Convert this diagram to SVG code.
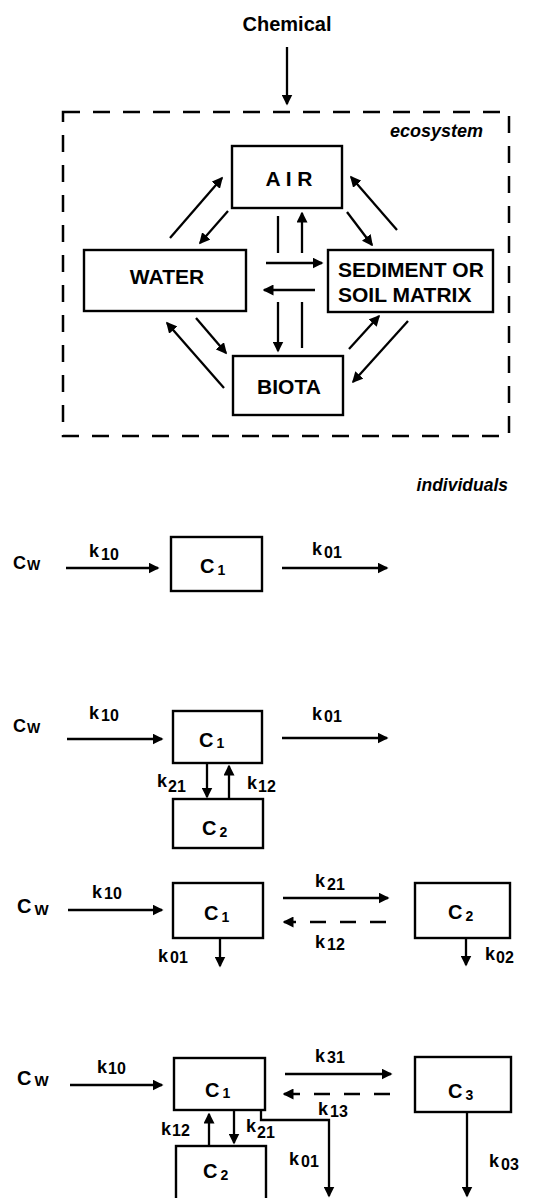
<svg xmlns="http://www.w3.org/2000/svg" width="538" height="1198" viewBox="0 0 538 1198">
<style>
text{font-family:"Liberation Sans",Arial,Helvetica,sans-serif;font-weight:bold;fill:#000}
.t{font-size:20px}
.e{font-size:21px}
.it{font-size:18px;font-style:italic}
.c{font-size:18px}
.c2{font-size:20px}
.w{font-size:14px}
.k{font-size:18px}
.ks{font-size:16px}
.cb{font-size:20px}
.cbs{font-size:14px}
.box{fill:#fff;stroke:#000;stroke-width:2.4}
.frame{fill:none;stroke:#000;stroke-width:2.5;stroke-dasharray:17 13}
.ln{fill:none;stroke:#000;stroke-width:2.3}
.ar{fill:none;stroke:#000;stroke-width:2.3;marker-end:url(#ah)}
.da{fill:none;stroke:#000;stroke-width:2.3;stroke-dasharray:16 14;marker-end:url(#ah)}
</style>
<defs>
<marker id="ah" viewBox="0 0 11 11" refX="9.5" refY="5.5" markerWidth="11" markerHeight="11" markerUnits="userSpaceOnUse" orient="auto">
<path d="M0,0 L11,5.5 L0,11 z" fill="#000"/>
</marker>
</defs>
<rect width="538" height="1198" fill="#fff"/>

<g id="chemical"><text class="t" x="287" y="31" text-anchor="middle">Chemical</text></g>

<g id="ecosystem">
<rect class="frame" x="63" y="112" width="446" height="324"/>
<text class="it" x="483" y="137" text-anchor="end">ecosystem</text>
</g>

<g id="air"><rect class="box" x="232" y="146" width="110" height="62"/><text class="e" x="289" y="186" text-anchor="middle">A I R</text></g>
<g id="water"><rect class="box" x="84" y="250" width="162" height="61"/><text class="e" x="167" y="284" text-anchor="middle">WATER</text></g>
<g id="sediment"><rect class="box" x="328" y="250" width="165" height="62"/><text class="e" x="338" y="277">SEDIMENT OR</text><text class="e" x="338" y="302">SOIL MATRIX</text></g>
<g id="biota"><rect class="box" x="233" y="356" width="110" height="59"/><text class="e" x="289" y="394" text-anchor="middle">BIOTA</text></g>

<g id="individuals-label"><text class="it" x="508" y="491" text-anchor="end" style="font-size:17.5px">individuals</text></g>

<!-- model 1 -->
<g id="m1-cw"><text class="c" x="13" y="569">C<tspan class="w" dx="1" dy="1">W</tspan></text></g>
<g id="m1-c1"><rect class="box" x="171" y="537" width="91" height="54"/><text class="cb" x="200" y="573">C<tspan class="cbs" dx="3" dy="2">1</tspan></text></g>

<!-- model 2 -->
<g id="m2-cw"><text class="c" x="13" y="732">C<tspan class="w" dx="1" dy="1">W</tspan></text></g>
<g id="m2-c1"><rect class="box" x="173" y="711" width="89" height="52"/><text class="cb" x="199" y="747">C<tspan class="cbs" dx="3" dy="1">1</tspan></text></g>
<g id="m2-c2"><rect class="box" x="173" y="799" width="90" height="49"/><text class="cb" x="202" y="835">C<tspan class="cbs" dx="3" dy="2">2</tspan></text></g>

<!-- model 3 -->
<g id="m3-cw"><text class="c2" x="17" y="913">C<tspan class="w" dx="3" dy="2" style="font-size:15px">W</tspan></text></g>
<g id="m3-c1"><rect class="box" x="173" y="883" width="90" height="55"/><text class="cb" x="204" y="920">C<tspan class="cbs" dx="3" dy="2">1</tspan></text></g>
<g id="m3-c2"><rect class="box" x="415" y="883" width="95" height="55"/><text class="cb" x="448" y="919">C<tspan class="cbs" dx="3" dy="2">2</tspan></text></g>

<!-- model 4 -->
<g id="m4-cw"><text class="c2" x="17" y="1085">C<tspan class="w" dx="3" dy="1" style="font-size:15px">W</tspan></text></g>
<g id="m4-c1"><rect class="box" x="174" y="1058" width="91" height="52"/><text class="cb" x="205" y="1097">C<tspan class="cbs" dx="3" dy="1">1</tspan></text></g>
<g id="m4-c3"><rect class="box" x="415" y="1057" width="96" height="55"/><text class="cb" x="448" y="1098">C<tspan class="cbs" dx="3" dy="2">3</tspan></text></g>
<g id="m4-c2"><rect class="box" x="176" y="1146" width="90" height="70"/><text class="cb" x="203" y="1178">C<tspan class="cbs" dx="3" dy="2">2</tspan></text></g>

<g id="connectors">
<line class="ar" x1="287" y1="47" x2="287" y2="104"/>
<line class="ar" x1="170" y1="238" x2="222" y2="178"/>
<line class="ar" x1="228" y1="211" x2="200" y2="243"/>
<line class="ln" x1="278" y1="216" x2="278" y2="253"/>
<line class="ar" x1="278" y1="302" x2="278" y2="351"/>
<line class="ln" x1="302" y1="348" x2="302" y2="302"/>
<line class="ar" x1="302" y1="253" x2="302" y2="213"/>
<line class="ar" x1="266" y1="263" x2="322" y2="263"/>
<line class="ar" x1="315" y1="290" x2="264" y2="290"/>
<line class="ar" x1="397" y1="230" x2="351" y2="177"/>
<line class="ar" x1="347" y1="212" x2="372" y2="245"/>
<line class="ar" x1="224" y1="388" x2="167" y2="323"/>
<line class="ar" x1="196" y1="318" x2="226" y2="353"/>
<line class="ar" x1="349" y1="349" x2="379" y2="316"/>
<line class="ar" x1="408" y1="321" x2="353" y2="382"/>

<line class="ar" x1="66" y1="568" x2="158" y2="568"/>
<line class="ar" x1="282" y1="568" x2="387" y2="568"/>

<line class="ar" x1="67" y1="739" x2="162" y2="739"/>
<line class="ar" x1="282" y1="738" x2="387" y2="738"/>
<line class="ar" x1="207" y1="763" x2="207" y2="797"/>
<line class="ar" x1="229" y1="799" x2="229" y2="766"/>

<line class="ar" x1="68" y1="910" x2="162" y2="910"/>
<line class="ar" x1="283" y1="898" x2="388" y2="898"/>
<line class="da" x1="386" y1="922" x2="284" y2="922"/>
<line class="ar" x1="220" y1="938" x2="220" y2="966"/>
<line class="ar" x1="466" y1="938" x2="466" y2="965"/>

<line class="ar" x1="70" y1="1085" x2="162" y2="1085"/>
<line class="ar" x1="285" y1="1074" x2="391" y2="1074"/>
<line class="da" x1="390" y1="1094" x2="284" y2="1094"/>
<line class="ar" x1="209" y1="1146" x2="209" y2="1114"/>
<line class="ar" x1="234" y1="1110" x2="234" y2="1143"/>
<path class="ar" d="M261,1110 V1120 H329 V1196"/>
<line class="ar" x1="467" y1="1112" x2="467" y2="1196"/>
</g>

<g id="rate-labels">
<text class="k" x="89" y="557">k<tspan class="ks" dx="2" dy="3">10</tspan></text>
<text class="k" x="312" y="555">k<tspan class="ks" dx="2" dy="3">01</tspan></text>

<text class="k" x="89" y="719">k<tspan class="ks" dx="2" dy="2">10</tspan></text>
<text class="k" x="312" y="720">k<tspan class="ks" dx="2" dy="2">01</tspan></text>
<text class="k" x="157" y="787">k<tspan class="ks" dx="1" dy="5">21</tspan></text>
<text class="k" x="247" y="789">k<tspan class="ks" dx="1" dy="3">12</tspan></text>

<text class="k" x="92" y="898">k<tspan class="ks" dx="2" dy="1">10</tspan></text>
<text class="k" x="315" y="887">k<tspan class="ks" dx="2" dy="3">21</tspan></text>
<text class="k" x="315" y="948">k<tspan class="ks" dx="2" dy="2">12</tspan></text>
<text class="k" x="158" y="962">k<tspan class="ks" dx="2" dy="1">01</tspan></text>
<text class="k" x="485" y="960">k<tspan class="ks" dx="1" dy="3">02</tspan></text>

<text class="k" x="97" y="1073">k<tspan class="ks" dx="1" dy="1">10</tspan></text>
<text class="k" x="315" y="1062">k<tspan class="ks" dx="2" dy="1">31</tspan></text>
<text class="k" x="318" y="1115">k<tspan class="ks" dx="2" dy="2">13</tspan></text>
<text class="k" x="161" y="1135">k<tspan class="ks" dx="1" dy="1">12</tspan></text>
<text class="k" x="246" y="1132">k<tspan class="ks" dx="1" dy="6">21</tspan></text>
<text class="k" x="289" y="1165">k<tspan class="ks" dx="2" dy="2">01</tspan></text>
<text class="k" x="489" y="1167">k<tspan class="ks" dx="2" dy="3">03</tspan></text>
</g>
</svg>
